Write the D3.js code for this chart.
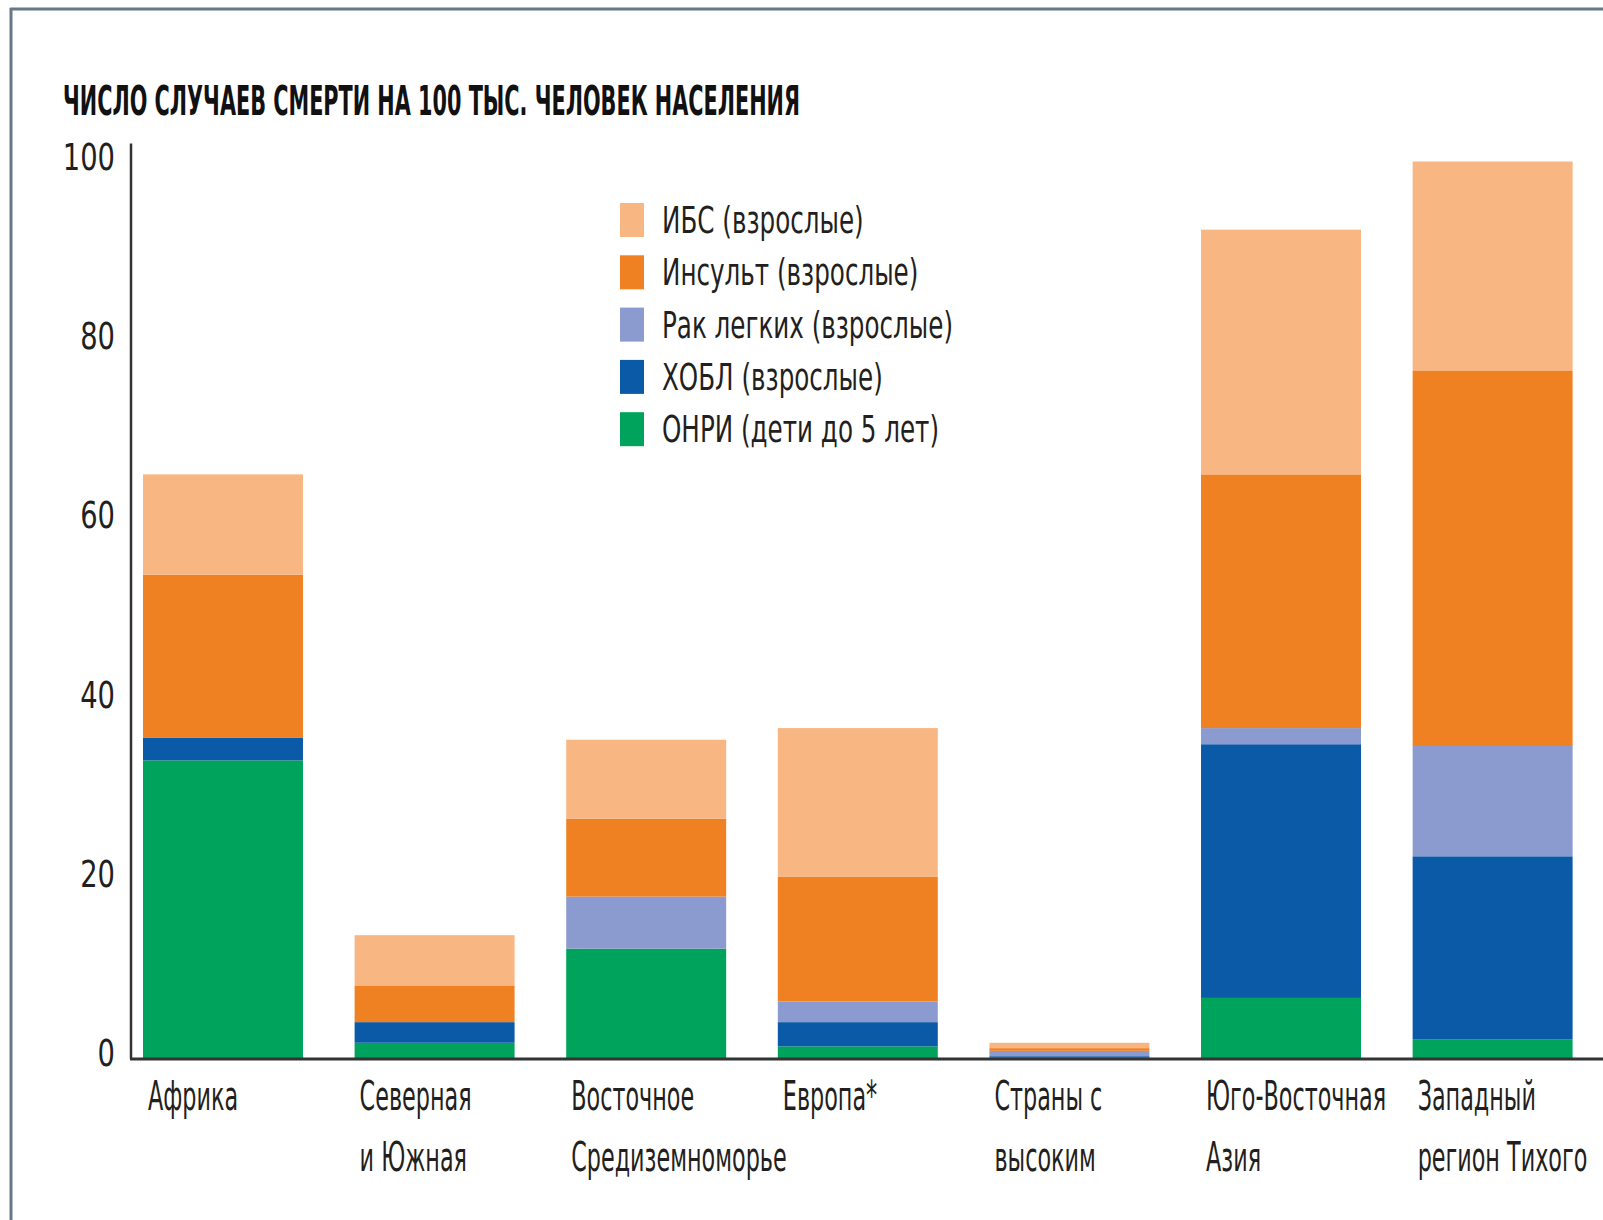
<!DOCTYPE html>
<meta charset="utf-8">
<style>
  body { margin: 0; background: #fff; }
  text { font-family: "Liberation Sans Narrow", "DejaVu Sans Condensed", sans-serif; fill: #231f20; }
</style>
<body>
<div id="chart"></div>
<script src="https://d3js.org/d3.v7.min.js"></script>
<script>
  // regions (two-line labels)
  var regions = ["Африка", "Северная и Южная", "Восточное Средиземноморье", "Европа*",
    "Страны с высоким", "Юго-Восточная Азия", "Западный регион Тихого"];
  var labelLines = [["Африка"], ["Северная", "и Южная"], ["Восточное", "Средиземноморье"], ["Европа*"],
    ["Страны с", "высоким"], ["Юго-Восточная", "Азия"], ["Западный", "регион Тихого"]];

  var seriesNames = ["ИБС (взрослые)", "Инсульт (взрослые)", "Рак легких (взрослые)",
    "ХОБЛ (взрослые)", "ОНРИ (дети до 5 лет)"];
  var seriesColors = ["#f8b683", "#f08123", "#8c9bcf", "#0b5aa7", "#00a35b"];

  // values per region, stacked bottom-up: ОНРИ, ХОБЛ, Рак, Инсульт, ИБС
  var onri    = [33.2, 1.7, 12.2, 1.3, 0.1, 6.7, 2.1];
  var copd    = [2.5, 2.3, 0.0, 2.7, 0.1, 28.3, 20.4];
  var lung    = [0.0, 0.0, 5.8, 2.3, 0.6, 1.8, 12.3];
  var stroke  = [18.2, 4.1, 8.7, 13.9, 0.3, 28.3, 41.9];
  var ihd     = [11.2, 5.6, 8.8, 16.6, 0.6, 27.3, 23.3];

  var yTicks = [0, 20, 40, 60, 80, 100];
  var title = "ЧИСЛО СЛУЧАЕВ СМЕРТИ НА 100 ТЫС. ЧЕЛОВЕК НАСЕЛЕНИЯ";

  var W = 1603, H = 1220;
  var svg = d3.select("#chart").append("svg")
    .attr("width", W)
    .attr("height", H);

  // frame (top and left edges)
  svg.append("line").attr("x1", 10).attr("x2", W).attr("y1", 9).attr("y2", 9)
    .attr("stroke", "#66788a").attr("stroke-width", 3);
  svg.append("line").attr("x1", 11).attr("x2", 11).attr("y1", 8).attr("y2", H)
    .attr("stroke", "#66788a").attr("stroke-width", 3);

  var x = d3.scaleBand()
    .domain(regions)
    .range([143, 1572.6])
    .paddingInner(0.244)
    .paddingOuter(0);

  var y = d3.scaleLinear()
    .domain([0, 100])
    .range([1058, 161.5]);

  // build table for stack
  var table = regions.map(function(r, i) {
    return { region: r, onri: onri[i], copd: copd[i], lung: lung[i], stroke: stroke[i], ihd: ihd[i] };
  });
  var keys = ["onri", "copd", "lung", "stroke", "ihd"];
  var keyColor = { onri: seriesColors[4], copd: seriesColors[3], lung: seriesColors[2], stroke: seriesColors[1], ihd: seriesColors[0] };
  var stacked = d3.stack().keys(keys)(table);

  svg.append("g").selectAll("g")
    .data(stacked)
    .enter().append("g")
    .attr("fill", function(d) { return keyColor[d.key]; })
    .selectAll("rect")
    .data(function(d) { return d; })
    .enter().append("rect")
    .attr("x", function(d) { return x(d.data.region); })
    .attr("width", x.bandwidth())
    .attr("y", function(d) { return y(d[1]); })
    .attr("height", function(d) { return y(d[0]) - y(d[1]); });

  // y axis
  var yAxis = d3.axisLeft(y).tickValues(yTicks).tickSize(0).tickPadding(20);
  var gy = svg.append("g")
    .attr("transform", "translate(131,0)")
    .call(yAxis);
  gy.select(".domain").remove();
  gy.selectAll("text")
    .style("font-size", "38px")
    .attr("dy", "0.2em")
    .attr("transform", "scale(0.8,1)")
    .attr("fill", "#231f20");
  svg.append("line")
    .attr("x1", 131).attr("x2", 131)
    .attr("y1", y(102)).attr("y2", y(0) + 1)
    .attr("stroke", "#333").attr("stroke-width", 2.5);
  // baseline
  svg.append("line")
    .attr("x1", 130).attr("x2", W)
    .attr("y1", y(0) + 1).attr("y2", y(0) + 1)
    .attr("stroke", "#333").attr("stroke-width", 3);

  // category labels
  var lab = svg.append("g").selectAll("g")
    .data(regions)
    .enter().append("g");
  lab.each(function(r, i) {
    var g = d3.select(this);
    labelLines[i].forEach(function(t, j) {
      g.append("text")
        .attr("transform", "translate(" + (x(r) + 5) + "," + (1110 + j * 61) + ") scale(0.62,1)")
        .style("font-size", "40px")
        .text(t);
    });
  });

  // title
  svg.append("text")
    .attr("x", 63).attr("y", 115)
    .attr("textLength", 737)
    .attr("lengthAdjust", "spacingAndGlyphs")
    .style("font-size", "40px")
    .style("font-weight", "bold")
    .style("fill", "#111")
    .text(title);

  // legend
  var legend = svg.append("g").selectAll("g")
    .data(seriesNames)
    .enter().append("g")
    .attr("transform", function(d, i) { return "translate(620," + (220 + i * 52.3) + ")"; });
  legend.append("rect")
    .attr("x", 0).attr("y", -17)
    .attr("width", 24).attr("height", 34)
    .attr("fill", function(d, i) { return seriesColors[i]; });
  legend.append("text")
    .attr("transform", "translate(42,13) scale(0.72,1)")
    .style("font-size", "38px")
    .text(function(d) { return d; });
</script>
</body>
